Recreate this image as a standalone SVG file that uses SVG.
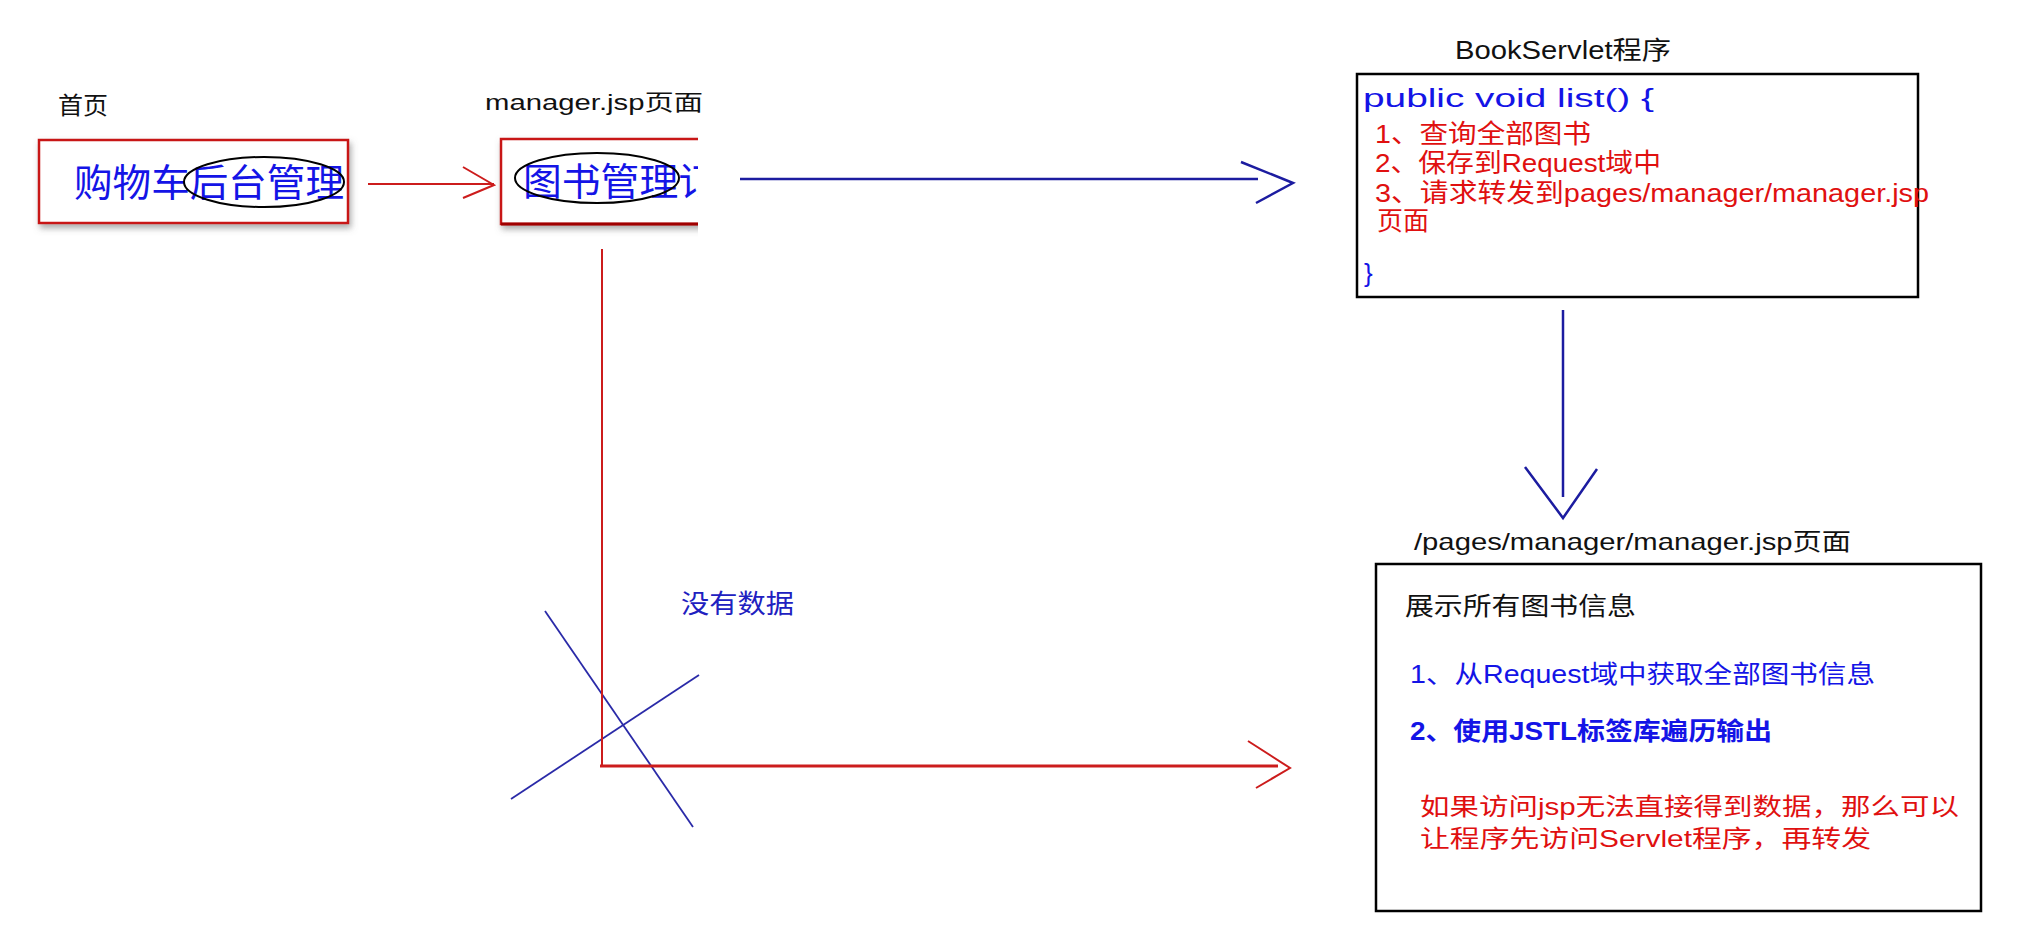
<svg xmlns="http://www.w3.org/2000/svg" width="2036" height="935" viewBox="0 0 2036 935">
<style>
.t{font-family:"Liberation Sans","Noto Sans CJK SC",sans-serif;}
.c{font-family:"Noto Sans CJK SC",sans-serif;}
.blk{fill:#111;}
.blue{fill:#1414e6;}
.red{fill:#e01010;}
.rbox{fill:#fff;stroke:#c81414;stroke-width:2.5;}
.kbox{fill:#fff;stroke:#000;stroke-width:2.5;}
.ell{fill:none;stroke:#000;stroke-width:2;}
.bl{stroke:#1c1ca0;stroke-width:2.5;fill:none;}
.rl{stroke:#cc1c1c;stroke-width:2;fill:none;}
.xl{stroke:#2a2aa8;stroke-width:1.8;fill:none;}
</style>
<defs>
<filter id="sh" x="-10%" y="-20%" width="125%" height="150%">
<feDropShadow dx="2" dy="4" stdDeviation="3" flood-color="#666" flood-opacity="0.55"/>
</filter>
<clipPath id="cut"><rect x="480" y="120" width="218" height="130"/></clipPath>
</defs>
<rect width="2036" height="935" fill="#fff"/>

<g id="home">
<text class="c blk" x="58" y="114" font-size="24" textLength="50" lengthAdjust="spacingAndGlyphs">首页</text>
<rect class="rbox" x="39" y="140" width="309" height="83" filter="url(#sh)"/>
<text class="c blue" x="74" y="196" font-size="38" textLength="270" lengthAdjust="spacingAndGlyphs">购物车后台管理</text>
<ellipse class="ell" cx="264" cy="182" rx="80" ry="25"/>
</g>

<g id="manager">
<text class="t blk" x="485" y="110" font-size="22" textLength="218" lengthAdjust="spacingAndGlyphs">manager.jsp页面</text>
<g clip-path="url(#cut)">
<rect class="rbox" x="501" y="139" width="240" height="85" filter="url(#sh)"/>
<line x1="501" y1="224" x2="740" y2="224" stroke="#a00000" stroke-width="3"/>
<text class="c blue" x="523" y="195" font-size="38" textLength="194" lengthAdjust="spacingAndGlyphs">图书管理订</text>
</g>
<ellipse class="ell" cx="597" cy="178" rx="82" ry="25"/>
</g>

<g id="bookservlet">
<text class="t blk" x="1455" y="59" font-size="25" textLength="216" lengthAdjust="spacingAndGlyphs">BookServlet程序</text>
<rect class="kbox" x="1357" y="74" width="561" height="223"/>
<text class="t blue" x="1363" y="107" font-size="26" textLength="291" lengthAdjust="spacingAndGlyphs">public void list() {</text>
<text class="t red" x="1375" y="143" font-size="26" textLength="216" lengthAdjust="spacingAndGlyphs">1、查询全部图书</text>
<text class="t red" x="1375" y="172" font-size="26" textLength="286" lengthAdjust="spacingAndGlyphs">2、保存到Request域中</text>
<text class="t red" x="1375" y="202" font-size="26" textLength="554" lengthAdjust="spacingAndGlyphs">3、请求转发到pages/manager/manager.jsp</text>
<text class="t red" x="1377" y="230" font-size="26" textLength="52" lengthAdjust="spacingAndGlyphs">页面</text>
<text class="t blue" x="1364" y="282" font-size="26">}</text>
</g>

<g id="managerjsp">
<text class="t blk" x="1414" y="550" font-size="24" textLength="437" lengthAdjust="spacingAndGlyphs">/pages/manager/manager.jsp页面</text>
<rect class="kbox" x="1376" y="564" width="605" height="347"/>
<text class="c blk" x="1405" y="615" font-size="25" textLength="231" lengthAdjust="spacingAndGlyphs">展示所有图书信息</text>
<text class="t blue" x="1410" y="683" font-size="25" textLength="465" lengthAdjust="spacingAndGlyphs">1、从Request域中获取全部图书信息</text>
<text class="t blue" x="1410" y="740" font-size="25" font-weight="bold" textLength="362" lengthAdjust="spacingAndGlyphs">2、使用JSTL标签库遍历输出</text>
<text class="t red" x="1420" y="815" font-size="24" textLength="539" lengthAdjust="spacingAndGlyphs">如果访问jsp无法直接得到数据，那么可以</text>
<text class="t red" x="1420" y="847" font-size="24" textLength="451" lengthAdjust="spacingAndGlyphs">让程序先访问Servlet程序，再转发</text>
</g>

<g id="nodata">
<text class="c" fill="#2020c0" x="681" y="613" font-size="26" textLength="113" lengthAdjust="spacingAndGlyphs">没有数据</text>
<line class="xl" x1="511" y1="799" x2="699" y2="675"/>
<line class="xl" x1="545" y1="611" x2="693" y2="827"/>
</g>

<g id="connectors">
<line class="rl" x1="368" y1="184" x2="494" y2="184"/>
<polyline class="rl" points="463,167 494,185 463,198"/>
<line class="bl" x1="740" y1="179" x2="1258" y2="179"/>
<polyline class="bl" points="1241,162 1293,183 1256,203"/>
<line class="bl" x1="1563" y1="310" x2="1563" y2="497"/>
<polyline class="bl" points="1525,467 1563,518 1597,469"/>
<line class="rl" x1="602" y1="249" x2="602" y2="766"/>
<line x1="600" y1="766" x2="1278" y2="766" stroke="#cc1c1c" stroke-width="3"/>
<polyline class="rl" points="1248,741 1290,768 1256,788"/>
</g>
</svg>
